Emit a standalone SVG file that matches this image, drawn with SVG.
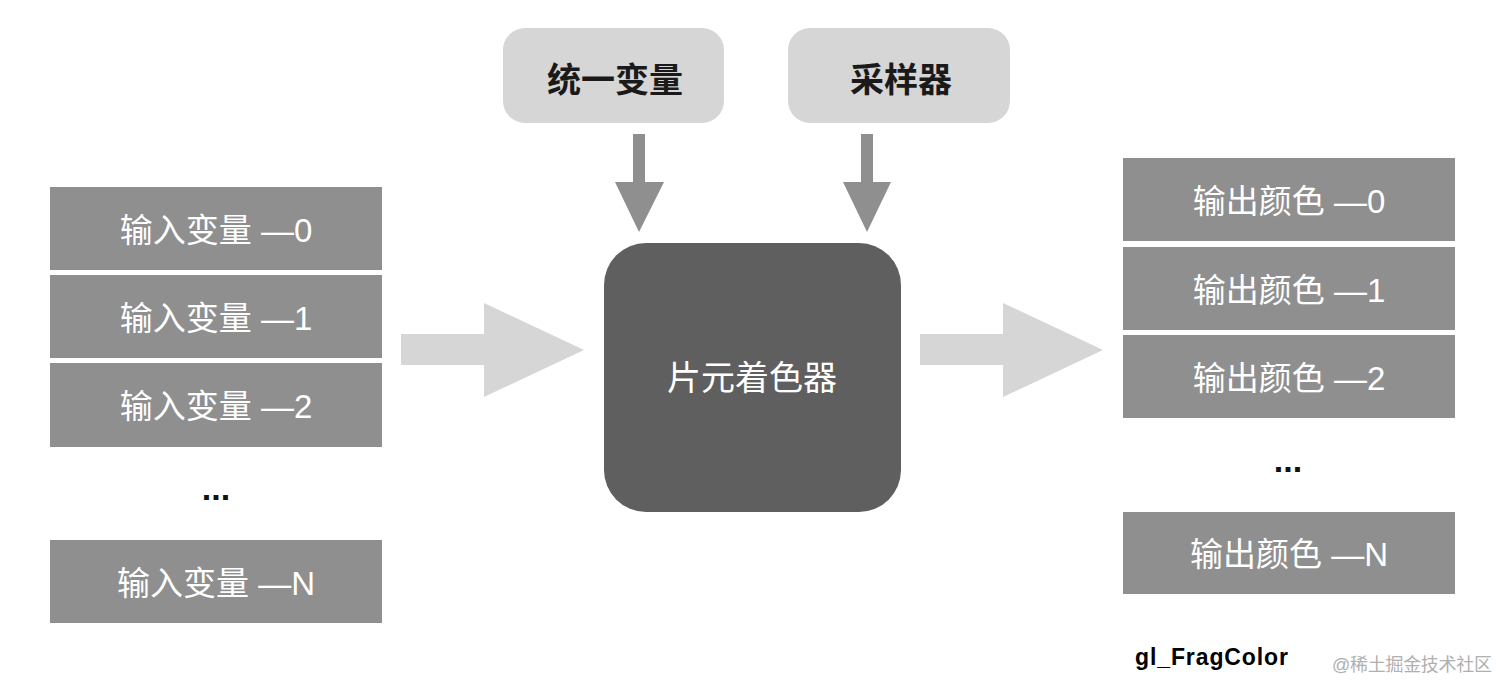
<svg xmlns="http://www.w3.org/2000/svg" width="1512" height="696" viewBox="0 0 1512 696">
<style>
.box{fill:#8f8f8f}
.top{fill:#d6d6d6}
.lbl{font-family:"Liberation Sans","Noto Sans CJK SC",sans-serif;font-size:33px;fill:#ffffff;text-anchor:middle}
.tlbl{font-family:"Liberation Sans","Noto Sans CJK SC",sans-serif;font-size:34px;font-weight:bold;fill:#1a1a1a;text-anchor:middle}
.dots{font-family:"Liberation Sans",sans-serif;font-size:34px;font-weight:bold;fill:#111;text-anchor:middle}
.big{fill:#d6d6d6}
.down{fill:#8f8f8f}
</style>
<rect width="1512" height="696" fill="#ffffff"/>
<g id="connectors">
<polygon class="big" points="401,334 484,334 484,303 584,350 484,397 484,365 401,365"/>
<polygon class="big" points="920,334 1003,334 1003,303 1103,350 1003,397 1003,365 920,365"/>
<polygon class="down" points="633,134 645,134 645,182 664,182 639,232 615,182 633,182"/>
<polygon class="down" points="861,134 873,134 873,182 891,182 867,232 843,182 861,182"/>
</g>
<g id="in0"><rect class="box" x="50" y="187" width="332" height="83"/><text class="lbl" x="216" y="242">输入变量 —0</text></g>
<g id="in1"><rect class="box" x="50" y="275" width="332" height="83"/><text class="lbl" x="216" y="330">输入变量 —1</text></g>
<g id="in2"><rect class="box" x="50" y="363" width="332" height="84"/><text class="lbl" x="216" y="418">输入变量 —2</text></g>
<g id="indots"><text class="dots" x="216" y="500">...</text></g>
<g id="inN"><rect class="box" x="50" y="540" width="332" height="83"/><text class="lbl" x="216" y="595">输入变量 —N</text></g>
<g id="uniform"><rect class="top" x="503" y="28" width="221" height="95" rx="22"/><text class="tlbl" x="615" y="92">统一变量</text></g>
<g id="sampler"><rect class="top" x="788" y="28" width="222" height="95" rx="22"/><text class="tlbl" x="901" y="92">采样器</text></g>
<g id="shader"><rect x="604" y="243" width="297" height="269" rx="42" fill="#5f5f5f"/><text class="lbl" x="752" y="390" style="font-size:34px">片元着色器</text></g>
<g id="out0"><rect class="box" x="1123" y="158" width="332" height="83"/><text class="lbl" x="1289" y="213">输出颜色 —0</text></g>
<g id="out1"><rect class="box" x="1123" y="247" width="332" height="83"/><text class="lbl" x="1289" y="302">输出颜色 —1</text></g>
<g id="out2"><rect class="box" x="1123" y="335" width="332" height="83"/><text class="lbl" x="1289" y="390">输出颜色 —2</text></g>
<g id="outdots"><text class="dots" x="1288" y="472">...</text></g>
<g id="outN"><rect class="box" x="1123" y="512" width="332" height="82"/><text class="lbl" x="1289" y="566">输出颜色 —N</text></g>
<g id="fragcolor"><text x="1135" y="665" font-family="Liberation Sans, sans-serif" font-size="23" font-weight="bold" fill="#000" textLength="153">gl_FragColor</text></g>
<g id="watermark"><text x="1332" y="671" font-family="Liberation Sans, Noto Sans CJK SC, sans-serif" font-size="18" fill="#b0b0b0" textLength="160">@稀土掘金技术社区</text></g>
</svg>
